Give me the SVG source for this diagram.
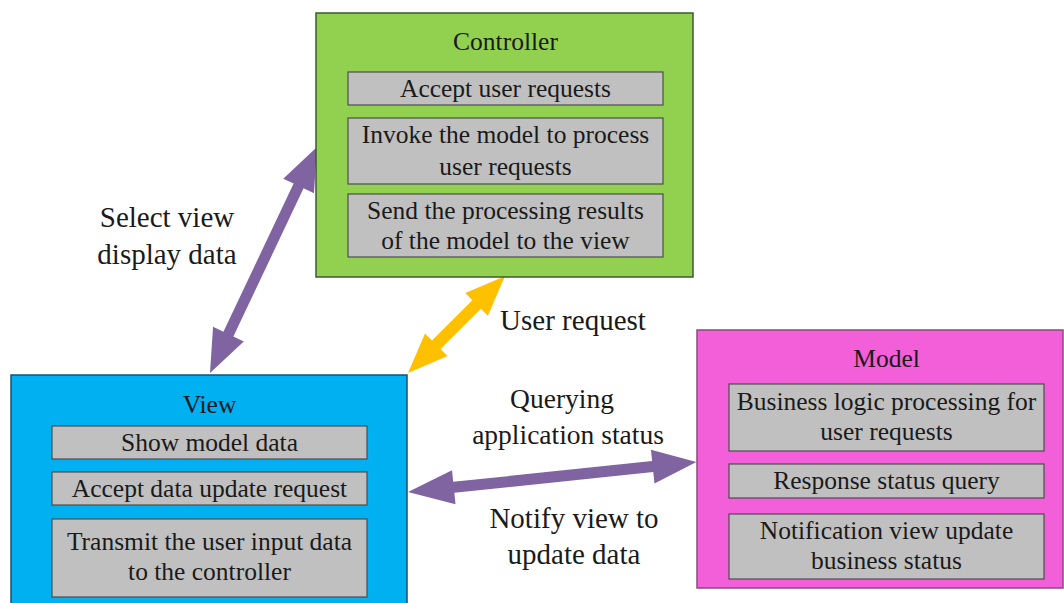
<svg xmlns="http://www.w3.org/2000/svg" width="1064" height="603" viewBox="0 0 1064 603">
  <style>
    text { font-family: "Liberation Serif", "Times New Roman", serif; fill: #1a1a1a; text-anchor: middle; }
    .title { font-size: 25.5px; }
    .item { font-size: 25.5px; }
    .label { font-size: 29px; }
    .label-sm { font-size: 27.5px; }
    .item-box { fill: #c0c0c0; stroke: #4d4d4d; stroke-width: 1.2; }
    .controller { fill: #92d050; stroke: #3e5a2c; stroke-width: 1.5; }
    .view { fill: #00b0f0; stroke: #1b4f72; stroke-width: 1.5; }
    .model { fill: #f35fd9; stroke: #8a4a80; stroke-width: 1.5; }
    .purple { fill: #8064a2; }
    .orange { fill: #ffc000; }
  </style>
  <rect width="1064" height="603" fill="#ffffff"/>

  <!-- Connectors: double-headed block arrows -->
  <g id="connectors">
    <!-- Controller <-> View -->
    <polygon class="purple" transform="translate(210,373) rotate(-64.66)"
      points="0,0 43,-17 43,-5.5 207,-5.5 207,-17 250,0 207,17 207,5.5 43,5.5 43,17"/>
    <!-- View <-> Controller (user request) -->
    <polygon class="orange" transform="translate(408,373) rotate(-45)"
      points="0,0 40,-16 40,-6 97,-6 97,-16 137,0 97,16 97,6 40,6 40,16"/>
    <!-- View <-> Model -->
    <polygon class="purple" transform="translate(408,492) rotate(-5.93)"
      points="0,0 46,-17 46,-5.5 246,-5.5 246,-17 290,0 246,17 246,5.5 46,5.5 46,17"/>
  </g>

  <!-- Connector labels -->
  <g id="labels">
    <text class="label" x="167" y="227">Select view</text>
    <text class="label" x="167" y="264">display data</text>
    <text class="label" x="573" y="330">User request</text>
    <text class="label-sm" x="562" y="408">Querying</text>
    <text class="label-sm" x="568" y="444">application status</text>
    <text class="label" x="574" y="528">Notify view to</text>
    <text class="label" x="574" y="564">update data</text>
  </g>

  <!-- Controller node -->
  <g id="controller">
    <rect class="controller" x="316" y="13" width="377" height="264"/>
    <text class="title" x="505.5" y="50">Controller</text>
    <rect class="item-box" x="348" y="72" width="315" height="33"/>
    <text class="item" x="505.5" y="97">Accept user requests</text>
    <rect class="item-box" x="348" y="118" width="315" height="66"/>
    <text class="item" x="505.5" y="143">Invoke the model to process</text>
    <text class="item" x="505.5" y="175">user requests</text>
    <rect class="item-box" x="348" y="194" width="315" height="63"/>
    <text class="item" x="505.5" y="219">Send the processing results</text>
    <text class="item" x="505.5" y="249">of the model to the view</text>
  </g>

  <!-- View node -->
  <g id="view">
    <rect class="view" x="11" y="375" width="396" height="240"/>
    <text class="title" x="209.5" y="413">View</text>
    <rect class="item-box" x="52" y="426" width="315" height="33"/>
    <text class="item" x="209.5" y="451">Show model data</text>
    <rect class="item-box" x="52" y="472" width="315" height="33"/>
    <text class="item" x="209.5" y="497">Accept data update request</text>
    <rect class="item-box" x="52" y="519" width="315" height="78"/>
    <text class="item" x="209.5" y="550">Transmit the user input data</text>
    <text class="item" x="209.5" y="580">to the controller</text>
  </g>

  <!-- Model node -->
  <g id="model">
    <rect class="model" x="697" y="330" width="366" height="258"/>
    <text class="title" x="886.5" y="367">Model</text>
    <rect class="item-box" x="729" y="384" width="315" height="67"/>
    <text class="item" x="886.5" y="410">Business logic processing for</text>
    <text class="item" x="886.5" y="440">user requests</text>
    <rect class="item-box" x="729" y="464" width="315" height="34"/>
    <text class="item" x="886.5" y="489">Response status query</text>
    <rect class="item-box" x="729" y="514" width="315" height="65"/>
    <text class="item" x="886.5" y="539">Notification view update</text>
    <text class="item" x="886.5" y="569">business status</text>
  </g>
</svg>
